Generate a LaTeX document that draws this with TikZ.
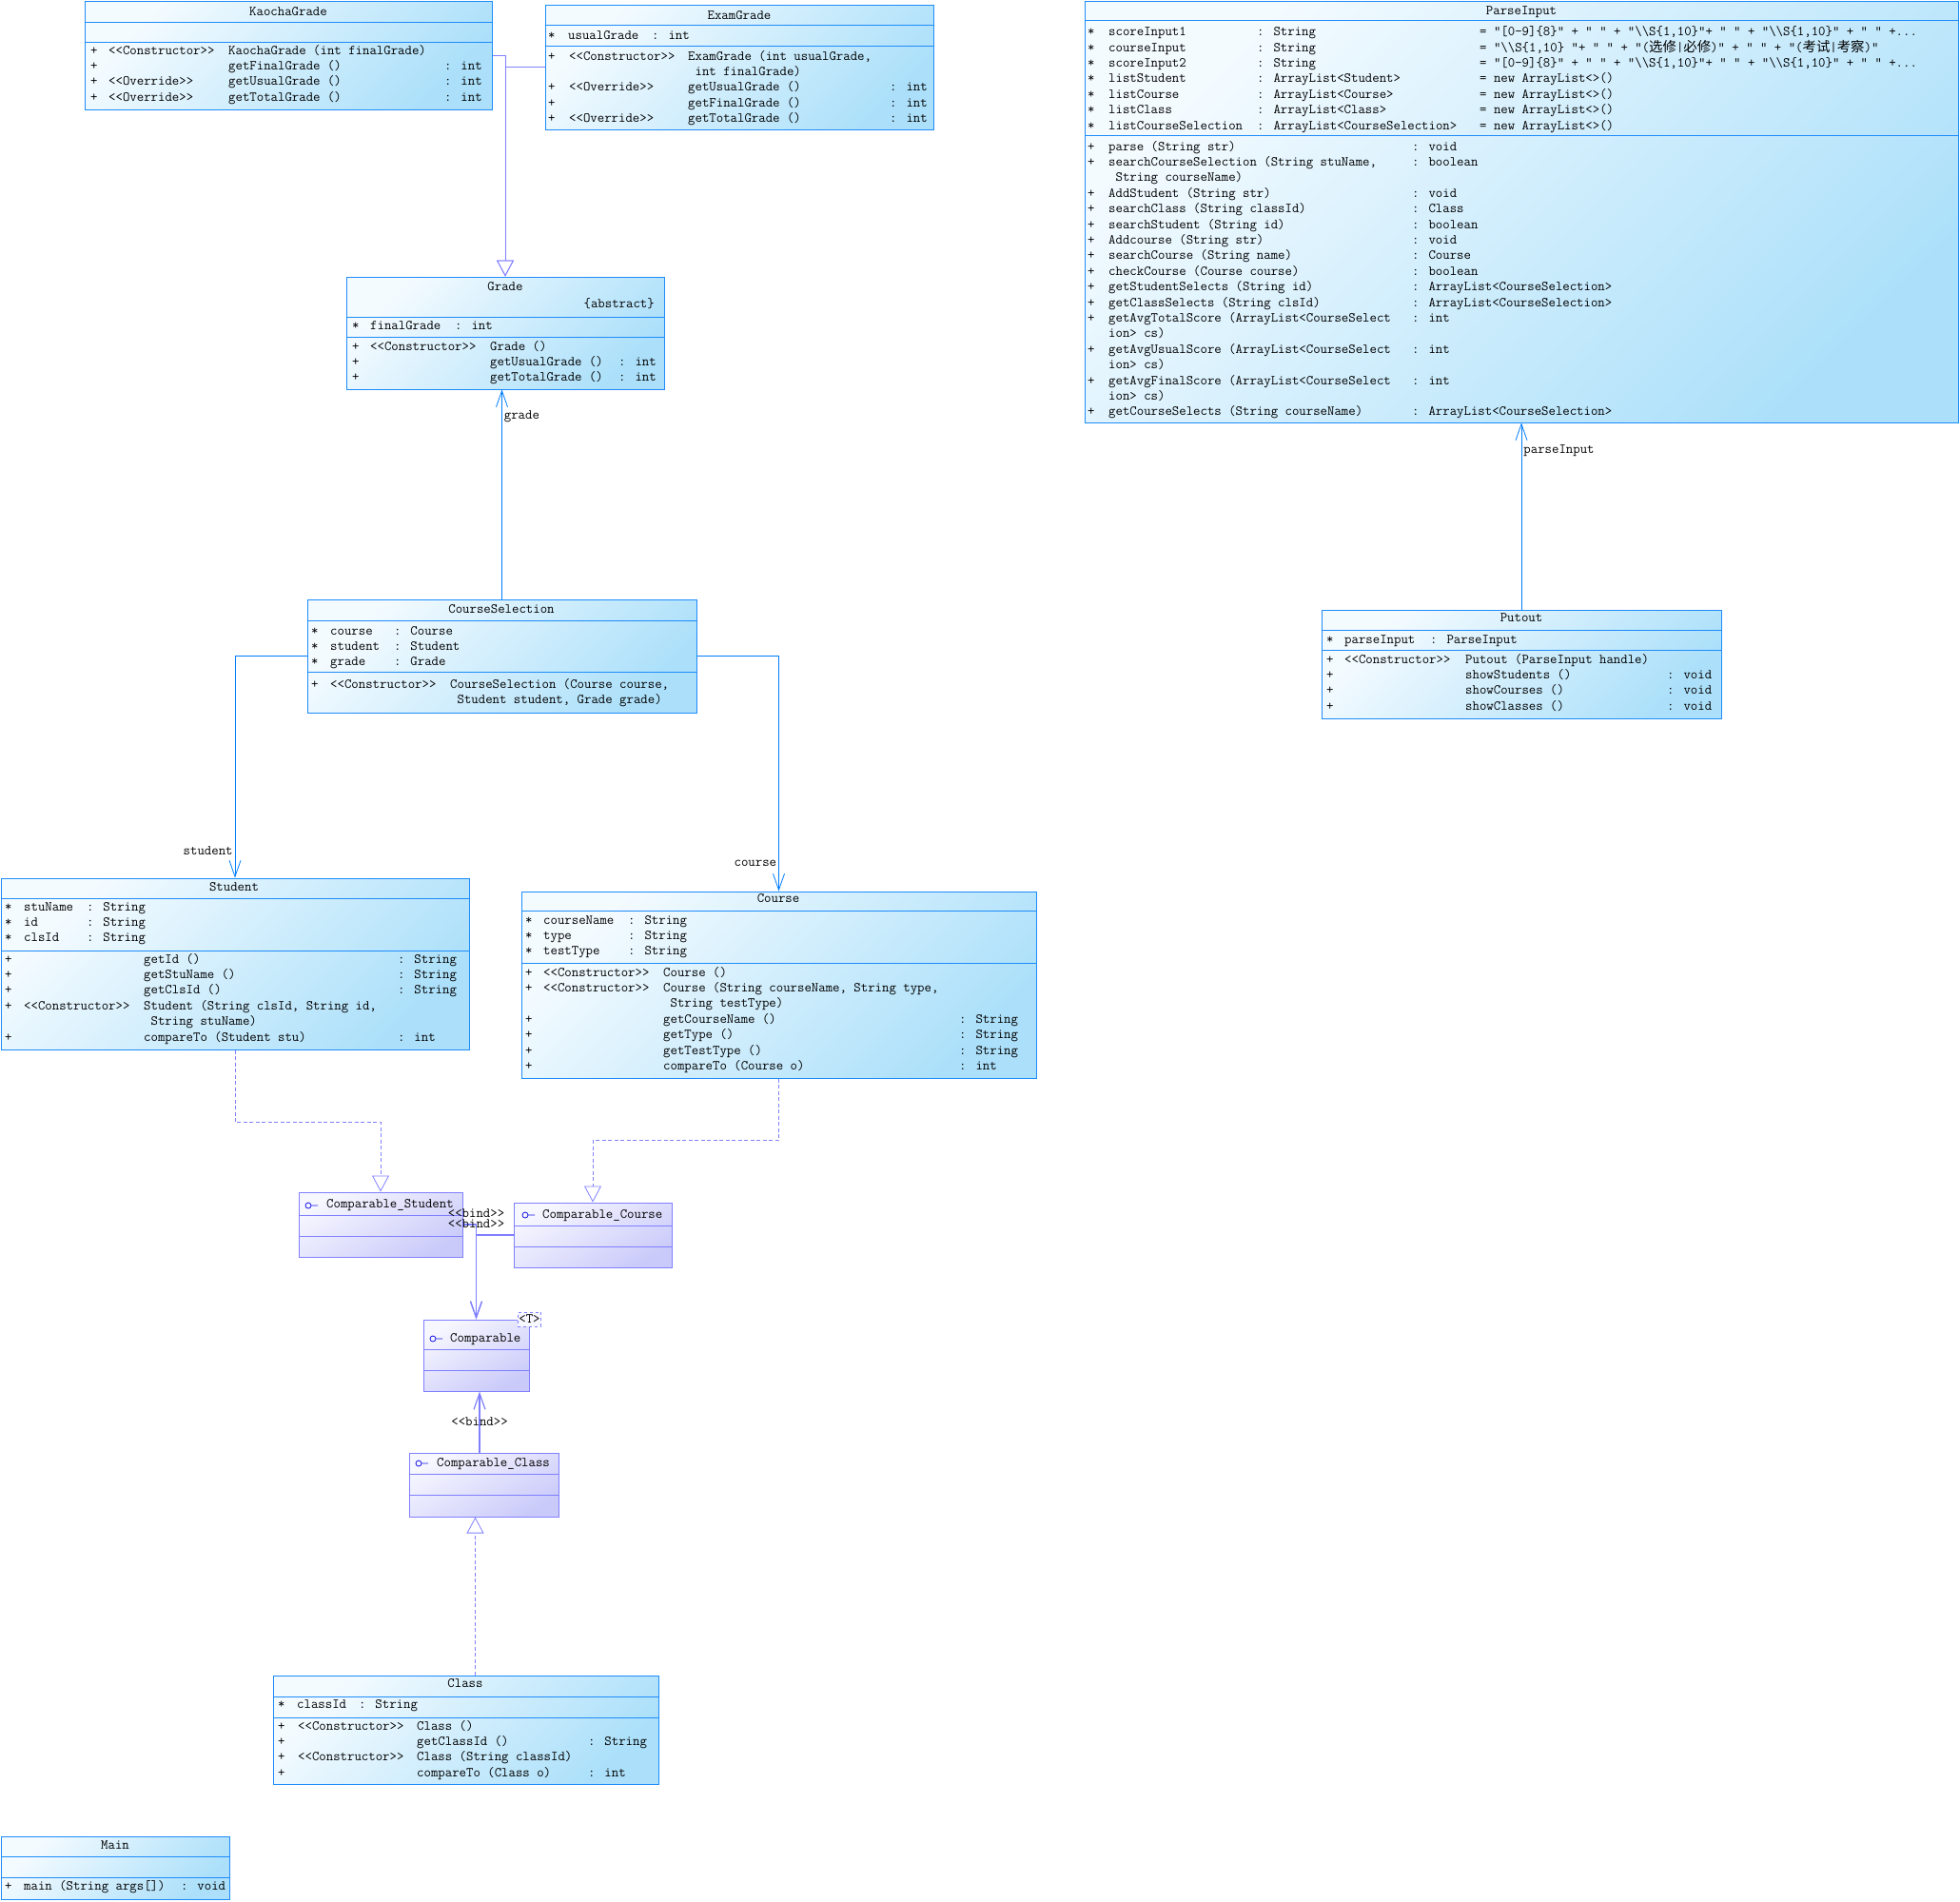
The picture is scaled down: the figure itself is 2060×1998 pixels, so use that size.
\documentclass[tikz,border=0pt]{standalone}
\usepackage{fontspec}
\usepackage{array}
\newfontfamily\cjk{Noto Sans CJK SC}
\usetikzlibrary{arrows.meta,positioning,fit}

\definecolor{clsdraw}{RGB}{30,140,250}
\definecolor{clstop}{RGB}{244,251,255}
\definecolor{clsbot}{RGB}{172,224,250}
\definecolor{ifdraw}{RGB}{128,128,255}
\definecolor{iftop}{RGB}{247,247,255}
\definecolor{ifbot}{RGB}{202,202,250}
\definecolor{assocc}{RGB}{0,125,255}
\definecolor{iconc}{RGB}{20,20,230}

\newcommand\umlfont{\ttfamily\fontsize{14.4}{16.4}\selectfont}
\newcommand\bs{\textbackslash}
\newcolumntype{L}[1]{w{l}{#1pt}@{}}
\newcommand\rows[2]{\begin{tabular}[t]{@{}#1@{}}#2\end{tabular}}

% box with its two compartment lines
\newcommand\umlbox[8]{%
  \node[#1, fit={(#3,#4) (#5,#6)}] (#2) {};
  \draw[#1 line] (#3,#7) -- (#5,#7) (#3,#8) -- (#5,#8);
}
\newcommand\ifaceicon[2]{\draw[icon] (#1,#2) circle (3pt) ++(3pt,0) -- ++(7pt,0);}

\begin{document}
\begin{tikzpicture}[
  x=1pt, y=-1pt,
  cls/.style={draw=clsdraw, line width=1pt, top color=clstop, bottom color=clsbot, shading angle=45, inner sep=0pt},
  cls line/.style={draw=clsdraw, line width=1pt},
  iface/.style={draw=ifdraw, line width=1pt, top color=iftop, bottom color=ifbot, shading angle=30, inner sep=0pt},
  iface line/.style={draw=ifdraw, line width=1pt},
  txt/.style={inner sep=0pt, anchor=base west, font=\umlfont},
  ttl/.style={txt, anchor=base},
  lbl/.style={font=\umlfont, inner sep=2pt},
  tmpl/.style={draw=ifdraw, dashed, fill=iftop, font=\umlfont, inner sep=1pt, minimum height=15pt},
  icon/.style={draw=iconc, line width=0.8pt},
  assoc/.style={draw=assocc, line width=0.8pt, -{Straight Barb[length=17pt, width=12pt]}},
  gen/.style={draw=ifdraw, line width=0.8pt, -{Triangle[open, length=17pt, width=18pt]}},
  real/.style={gen, dash pattern=on 4pt off 2.5pt},
  bind/.style={draw=ifdraw, line width=1.2pt, -{Straight Barb[length=17pt, width=12pt]}}
]
\useasboundingbox (0,0) rectangle (2060,1998);

\umlbox{cls}{kaocha}{89}{1}{517}{115}{23}{44}
\node[ttl] (kaocha-t) at (303,16) {KaochaGrade};
\node[txt] (kaocha-m) at (95,57) {\rows{L{19}L{126}L{227}l}{
+&<<Constructor>>&KaochaGrade (int finalGrade)&\\
+&&getFinalGrade ()&: int\\
+&<<Override>>&getUsualGrade ()&: int\\
+&<<Override>>&getTotalGrade ()&: int}};

\umlbox{cls}{exam}{573}{5}{981}{136}{26}{48}
\node[ttl] (exam-t) at (777,20) {ExamGrade};
\node[txt] (exam-a) at (576,41) {\rows{L{21}L{88}l}{{*}&usualGrade&: int}};
\node[txt] (exam-m) at (576,63) {\rows{L{22}L{125}L{212}l}{
+&<<Constructor>>&ExamGrade (int usualGrade,&\\
&&\ int finalGrade)&\\
+&<<Override>>&getUsualGrade ()&: int\\
+&&getFinalGrade ()&: int\\
+&<<Override>>&getTotalGrade ()&: int}};

\umlbox{cls}{parse}{1140}{1}{2058}{444}{21}{142}
\node[ttl] (parse-t) at (1599,15) {ParseInput};
\node[txt] (parse-a) at (1143,37) {\rows{L{22}L{156}L{234}l}{
{*}&scoreInput1&: String&= "[0-9]\{8\}" + " " + "\bs\bs S\{1,10\}"+ " " + "\bs\bs S\{1,10\}" + " " +...\\
{*}&courseInput&: String&= "\bs\bs S\{1,10\} "+ " " + "({\cjk 选修}|{\cjk 必修})" + " " + "({\cjk 考试}|{\cjk 考察})"\\
{*}&scoreInput2&: String&= "[0-9]\{8\}" + " " + "\bs\bs S\{1,10\}"+ " " + "\bs\bs S\{1,10\}" + " " +...\\
{*}&listStudent&: ArrayList<Student>&= new ArrayList<>()\\
{*}&listCourse&: ArrayList<Course>&= new ArrayList<>()\\
{*}&listClass&: ArrayList<Class>&= new ArrayList<>()\\
{*}&listCourseSelection&: ArrayList<CourseSelection>&= new ArrayList<>()}};
\node[txt] (parse-m) at (1143,158) {\rows{L{22}L{319}l}{
+&parse (String str)&: void\\
+&searchCourseSelection (String stuName,&: boolean\\
&\ String courseName)&\\
+&AddStudent (String str)&: void\\
+&searchClass (String classId)&: Class\\
+&searchStudent (String id)&: boolean\\
+&Addcourse (String str)&: void\\
+&searchCourse (String name)&: Course\\
+&checkCourse (Course course)&: boolean\\
+&getStudentSelects (String id)&: ArrayList<CourseSelection>\\
+&getClassSelects (String clsId)&: ArrayList<CourseSelection>\\
+&getAvgTotalScore (ArrayList<CourseSelect&: int\\
&ion> cs)&\\
+&getAvgUsualScore (ArrayList<CourseSelect&: int\\
&ion> cs)&\\
+&getAvgFinalScore (ArrayList<CourseSelect&: int\\
&ion> cs)&\\
+&getCourseSelects (String courseName)&: ArrayList<CourseSelection>}};

\umlbox{cls}{grade}{364}{291}{698}{409}{333}{354}
\node[ttl] (grade-t) at (531,305) {Grade};
\node[txt, anchor=base east] (grade-s) at (688,323) {\{abstract\}};
\node[txt] (grade-a) at (370,346) {\rows{L{19}L{89}l}{{*}&finalGrade&: int}};
\node[txt] (grade-m) at (370,368) {\rows{L{19}L{126}L{135}l}{
+&<<Constructor>>&Grade ()&\\
+&&getUsualGrade ()&: int\\
+&&getTotalGrade ()&: int}};

\umlbox{cls}{csel}{323}{630}{732}{749}{652}{706}
\node[ttl] (csel-t) at (527,644) {CourseSelection};
\node[txt] (csel-a) at (327,667) {\rows{L{20}L{67}l}{
{*}&course&: Course\\
{*}&student&: Student\\
{*}&grade&: Grade}};
\node[txt] (csel-m) at (327,723) {\rows{L{20}L{126}l}{
+&<<Constructor>>&CourseSelection (Course course,\\
&&\ Student student, Grade grade)}};

\umlbox{cls}{student}{1}{923}{493}{1103}{944}{999}
\node[ttl] (student-t) at (246,936) {Student};
\node[txt] (student-a) at (5,957) {\rows{L{20}L{66}l}{
{*}&stuName&: String\\
{*}&id&: String\\
{*}&clsId&: String}};
\node[txt] (student-m) at (5,1012) {\rows{L{20}L{126}L{267}l}{
+&&getId ()&: String\\
+&&getStuName ()&: String\\
+&&getClsId ()&: String\\
+&<<Constructor>>&Student (String clsId, String id,&\\
&&\ String stuName)&\\
+&&compareTo (Student stu)&: int}};

\umlbox{cls}{course}{548}{937}{1089}{1133}{957}{1012}
\node[ttl] (course-t) at (818,948) {Course};
\node[txt] (course-a) at (552,971) {\rows{L{19}L{89}l}{
{*}&courseName&: String\\
{*}&type&: String\\
{*}&testType&: String}};
\node[txt] (course-m) at (552,1026) {\rows{L{19}L{126}L{311}l}{
+&<<Constructor>>&Course ()&\\
+&<<Constructor>>&Course (String courseName, String type,&\\
&&\ String testType)&\\
+&&getCourseName ()&: String\\
+&&getType ()&: String\\
+&&getTestType ()&: String\\
+&&compareTo (Course o)&: int}};

\umlbox{cls}{clazz}{287}{1761}{692}{1875}{1783}{1805}
\node[ttl] (clazz-t) at (489,1773) {Class};
\node[txt] (clazz-a) at (292,1795) {\rows{L{20}L{65}l}{{*}&classId&: String}};
\node[txt] (clazz-m) at (292,1818) {\rows{L{21}L{125}L{180}l}{
+&<<Constructor>>&Class ()&\\
+&&getClassId ()&: String\\
+&<<Constructor>>&Class (String classId)&\\
+&&compareTo (Class o)&: int}};

\umlbox{cls}{putout}{1389}{641}{1809}{755}{662}{683}
\node[ttl] (putout-t) at (1599,653) {Putout};
\node[txt] (putout-a) at (1394,676) {\rows{L{19}L{90}l}{{*}&parseInput&: ParseInput}};
\node[txt] (putout-m) at (1394,697) {\rows{L{19}L{127}L{212}l}{
+&<<Constructor>>&Putout (ParseInput handle)&\\
+&&showStudents ()&: void\\
+&&showCourses ()&: void\\
+&&showClasses ()&: void}};

\umlbox{cls}{main}{1}{1930}{241}{1996}{1951}{1973}
\node[ttl] (main-t) at (121,1943) {Main};
\node[txt] (main-m) at (5,1986) {\rows{L{20}L{165}l}{+&main (String args[])&: void}};

\umlbox{iface}{cmpstu}{314}{1253}{486}{1321}{1277}{1299}
\ifaceicon{324}{1267}
\node[txt] (cmpstu-t) at (343,1269) {Comparable\_Student};

\umlbox{iface}{cmpcrs}{540}{1264}{706}{1332}{1288}{1310}
\ifaceicon{552}{1277}
\node[txt] (cmpcrs-t) at (570,1280) {Comparable\_Course};

\umlbox{iface}{cmp}{445}{1387}{556}{1462}{1418}{1440}
\ifaceicon{455}{1407}
\node[txt] (cmp-t) at (473,1410) {Comparable};
\node[tmpl] (cmp-T) at (cmp.north east) {<T>};

\umlbox{iface}{cmpcls}{430}{1527}{587}{1594}{1549}{1571}
\ifaceicon{440}{1538}
\node[txt] (cmpcls-t) at (459,1541) {Comparable\_Class};

\draw[gen] (kaocha.east) -| (grade.north);
\draw[gen] (exam.west) -| (grade.north);
\draw[assoc] (csel.north) -- (csel.north |- grade.south) node[pos=0.87, right, lbl] {grade};
\draw[assoc] (csel.west) -| (student.north) node[pos=0.94, left, lbl] {student};
\draw[assoc] (csel.east) -| (course.north) node[pos=0.94, left, lbl] {course};
\draw[assoc] (putout.north) -- (parse.south) node[pos=0.85, right, lbl] {parseInput};
\draw[real] (student.south) -- ++(0,76) -| (cmpstu.north);
\draw[real] (course.south) -- ++(0,65) -| (cmpcrs.north);
\draw[real] ([xshift=10pt]clazz.north) -- ([xshift=10pt]clazz.north |- cmpcls.south);
\draw[bind] (cmpstu.east) -| (cmp.north) node[pos=0.5, above=4.5pt, lbl] {<<bind>>};
\draw[bind] (cmpcrs.west) -| (cmp.north) node[pos=0.5, above=4.5pt, lbl] {<<bind>>};
\draw[bind] ([xshift=3.5pt]cmp.south |- cmpcls.north) -- ([xshift=3.5pt]cmp.south) node[midway, lbl] {<<bind>>};
\end{tikzpicture}
\end{document}
